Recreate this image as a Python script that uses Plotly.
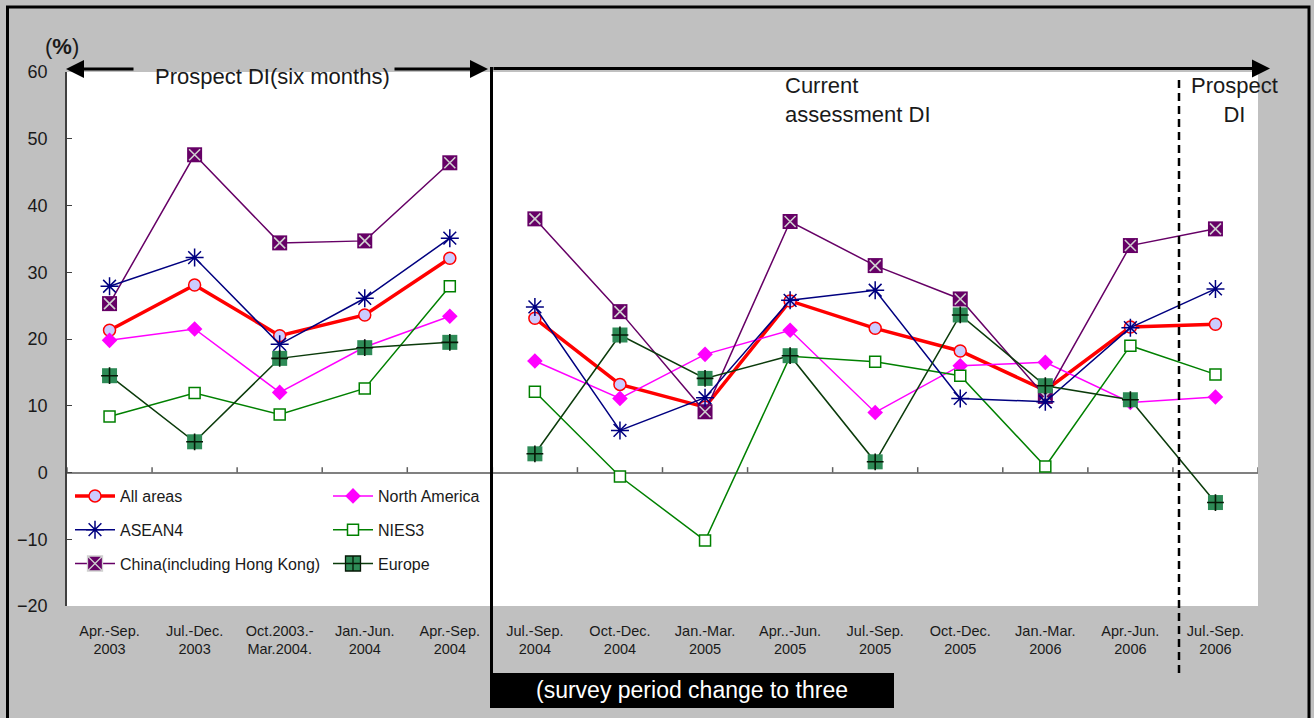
import plotly.graph_objects as go

# Survey periods (category axis)
periods = [
    "Apr.-Sep.<br>2003", "Jul.-Dec.<br>2003", "Oct.2003.-<br>Mar.2004.",
    "Jan.-Jun.<br>2004", "Apr.-Sep.<br>2004", "Jul.-Sep.<br>2004",
    "Oct.-Dec.<br>2004", "Jan.-Mar.<br>2005", "Apr..-Jun.<br>2005",
    "Jul.-Sep.<br>2005", "Oct.-Dec.<br>2005", "Jan.-Mar.<br>2006",
    "Apr.-Jun.<br>2006", "Jul.-Sep.<br>2006",
]

# DI values (%) by region
all_areas = [21.3, 28.1, 20.5, 23.6, 32.1, 23.1, 13.2, 9.8, 25.7, 21.6, 18.2, 12.3, 21.8, 22.2]
north_america = [19.8, 21.5, 12.0, 18.8, 23.4, 16.7, 11.1, 17.7, 21.3, 9.0, 16.0, 16.5, 10.5, 11.3]
asean4 = [27.9, 32.2, 19.2, 26.1, 35.1, 24.8, 6.3, 11.2, 25.8, 27.3, 11.1, 10.6, 21.7, 27.5]
nies3 = [8.4, 11.9, 8.7, 12.6, 27.9, 12.1, -0.6, -10.2, 17.4, 16.6, 14.5, 0.9, 19.0, 14.7]
china = [25.3, 47.6, 34.4, 34.7, 46.4, 38.0, 24.1, 9.1, 37.6, 31.0, 26.0, 11.4, 34.0, 36.5]
europe = [14.5, 4.6, 17.1, 18.7, 19.5, 2.8, 20.6, 14.1, 17.5, 1.6, 23.6, 13.0, 10.9, -4.5]

y_ticks = [-20, -10, 0, 10, 20, 30, 40, 50, 60]

# Six-month surveys come first, then quarterly surveys (lines are not joined across the change)
SPLIT = 5
xpos = list(range(len(periods)))

W, H = 1314, 718
PL, PR, PT, PB = 67, 1258, 72, 606
FONT = "Liberation Sans, Arial, sans-serif"
TXT = "#1a1a1a"


def fx(px):
    return (px - PL) / (PR - PL)


def fy(py):
    return (PB - py) / (PB - PT)


series = [
    # name, values, line, marker, inner glyph (symbol, size, color), legend symbol, legend, rank
    ("All areas", all_areas, dict(color="#FF0000", width=3.5),
     dict(symbol="circle", size=12, color="#CCCCFF", line=dict(color="#FF0000", width=1.5)),
     None, None, "legend", 1),
    ("North America", north_america, dict(color="#FF00FF", width=1.5),
     dict(symbol="diamond", size=12, color="#FF00FF", line=dict(width=0)),
     None, None, "legend2", 4),
    ("NIES3", nies3, dict(color="#008000", width=1.5),
     dict(symbol="square", size=11, color="#FFFFFF", line=dict(color="#008000", width=1.5)),
     None, None, "legend2", 5),
    ("China(including Hong Kong)", china, dict(color="#660066", width=1.5),
     dict(symbol="square", size=15, color="#660066", line=dict(width=0)),
     ("x-thin-open", 11, "#D0D0D0"), "square-x", "legend", 3),
    ("ASEAN4", asean4, dict(color="#000080", width=1.5),
     dict(symbol="asterisk-open", size=15, color="#000080", line=dict(color="#000080", width=1.5)),
     None, None, "legend", 2),
    ("Europe", europe, dict(color="#0B3B0B", width=1.5),
     dict(symbol="square", size=15, color="#2E8B57", line=dict(width=0)),
     ("cross-thin-open", 12, "#061806"), "square-cross", "legend2", 6),
]

fig = go.Figure()
for name, vals, line, marker, glyph, leg_symbol, leg, rank in series:
    plain_legend = glyph is None
    for part, (a, b) in enumerate([(0, SPLIT), (SPLIT, len(vals))]):
        fig.add_trace(go.Scatter(
            x=xpos[a:b], y=vals[a:b], name=name, mode="lines+markers",
            line=line, marker=marker, legendgroup=name, legend=leg,
            legendrank=rank, showlegend=(part == 0 and plain_legend), cliponaxis=False,
        ))
    if glyph is not None:
        sym, size, col = glyph
        # glyph drawn on top of the filled square
        fig.add_trace(go.Scatter(
            x=xpos, y=vals, name=name, mode="markers", legendgroup=name, legend=leg,
            marker=dict(symbol=sym, size=size, color=col, line=dict(color=col, width=1.6)),
            showlegend=False, cliponaxis=False, hoverinfo="skip",
        ))
        # legend key for the combined symbol
        fig.add_trace(go.Scatter(
            x=[None], y=[None], name=name, mode="lines+markers", line=line,
            marker=dict(symbol=leg_symbol, size=15, color=marker["color"],
                        line=dict(color=col, width=1.3)),
            legendgroup=name, legend=leg, legendrank=rank, showlegend=True,
        ))

shapes = []
# outer frame
shapes.append(dict(type="rect", xref="paper", yref="paper",
                   x0=fx(7.5), x1=fx(1309), y0=fy(740), y1=fy(7),
                   line=dict(color="#000000", width=3), fillcolor="rgba(0,0,0,0)"))
# period boundary ticks on the zero line
for k in range(len(periods) + 1):
    shapes.append(dict(type="line", xref="x", yref="y", x0=k - 0.5, x1=k - 0.5,
                       y0=0, y1=0.8, line=dict(color="#606060", width=1.5)))
# survey-period change divider
shapes.append(dict(type="line", xref="paper", yref="paper",
                   x0=fx(491.5), x1=fx(491.5), y0=fy(708), y1=fy(67),
                   line=dict(color="#000000", width=3)))
# prospect divider (dashed)
shapes.append(dict(type="line", xref="paper", yref="paper",
                   x0=fx(1179), x1=fx(1179), y0=fy(673), y1=fy(75),
                   line=dict(color="#000000", width=2.5, dash="8px,5px")))
# note box
shapes.append(dict(type="rect", xref="paper", yref="paper",
                   x0=fx(491), x1=fx(894), y0=fy(708), y1=fy(673),
                   line=dict(color="#000000", width=0), fillcolor="#000000"))

annotations = []


def arrow(tip, tail, y):
    return dict(xref="paper", yref="paper", axref="pixel", ayref="pixel",
                x=fx(tip), y=fy(y), ax=tail - tip, ay=0, text="",
                showarrow=True, arrowhead=2, arrowsize=1.2, arrowwidth=3,
                arrowcolor="#000000", standoff=0, startstandoff=0)


annotations += [arrow(66, 135, 69), arrow(488, 393, 69), arrow(1270, 492, 68.5)]


def label(px, py, text, size, color=TXT, xanchor="center", align="center"):
    return dict(xref="paper", yref="paper", x=fx(px), y=fy(py), text=text,
                xanchor=xanchor, yanchor="middle", align=align, showarrow=False,
                font=dict(family=FONT, size=size, color=color))


annotations += [
    label(272, 76, "Prospect DI(six months)", 22),
    label(783, 100, "Current<br>assessment DI", 22, xanchor="left", align="left"),
    label(1234, 100, "Prospect<br>DI", 22),
    label(692, 690, "(survey period change to three", 23, color="#FFFFFF"),
    label(62, 46, "(<b>%</b>)", 22),
]

legend_style = dict(
    orientation="v", bgcolor="rgba(0,0,0,0)", borderwidth=0,
    font=dict(family=FONT, size=16, color=TXT),
    itemwidth=40, traceorder="grouped", tracegroupgap=10,
    xanchor="left", yanchor="top", itemclick=False, itemdoubleclick=False,
)

fig.update_layout(
    width=W, height=H,
    margin=dict(l=PL, r=W - PR, t=PT, b=H - PB, autoexpand=False),
    paper_bgcolor="#C0C0C0", plot_bgcolor="#FFFFFF",
    font=dict(family=FONT, color=TXT),
    legend=dict(legend_style, x=fx(70), y=fy(479)),
    legend2=dict(legend_style, x=fx(328), y=fy(479)),
    shapes=shapes, annotations=annotations,
    xaxis=dict(range=[-0.5, len(periods) - 0.5], tickvals=xpos, ticktext=periods,
               showgrid=False, zeroline=False, showline=False, ticks="",
               tickfont=dict(family=FONT, size=14.5, color=TXT),
               ticklabelstandoff=14),
    yaxis=dict(range=[-20, 60], tickvals=y_ticks, showgrid=False,
               zeroline=True, zerolinecolor="#808080", zerolinewidth=2,
               showline=True, linecolor="#404040", linewidth=1.5,
               ticks="inside", ticklen=5, tickcolor="#404040",
               tickfont=dict(family=FONT, size=18, color=TXT),
               ticklabelstandoff=14),
)

fig.write_html("out.html")
